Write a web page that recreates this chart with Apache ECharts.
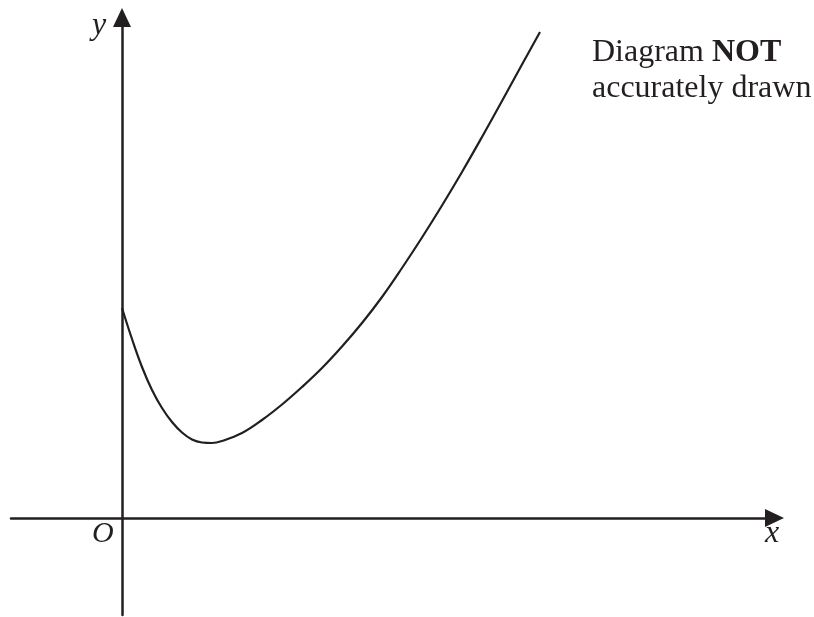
<!DOCTYPE html>
<html>
<head>
<meta charset="utf-8">
<style>
    html, body { margin: 0; padding: 0; background: #fff; }
    #chart { width: 814px; height: 617px; }
</style>
<script src="https://cdn.jsdelivr.net/npm/echarts@6/dist/echarts.min.js"></script>
</head>
<body>
<div id="chart"></div>
<script>
// 曲线上的点（读图估计，单位任意）
const curveX = [0, 1, 2, 3, 4, 5, 6, 7, 8, 9, 10, 12, 14, 16, 18, 20, 22, 24, 26, 28, 30, 32, 34, 36, 38, 40, 41.8];
const curveY = [21.0, 17.9, 15.1, 12.8, 11.0, 9.6, 8.55, 7.85, 7.55, 7.5, 7.7, 8.5, 9.8, 11.35, 13.1, 15.0, 17.15, 19.5, 22.1, 25.0, 28.05, 31.25, 34.6, 38.1, 41.7, 45.35, 48.6];

// 坐标范围
const xRange = [-11.1, 65.25];
const yRange = [-9.7, 50.05];

// 文字
const axisNames = { x: 'x', y: 'y', origin: 'O' };
const noteLine1 = 'Diagram ';
const noteBold = 'NOT';
const noteLine2 = 'accurately drawn';

const ink = '#231f20';
const serif = '"Liberation Serif", "DejaVu Serif", serif';

const chart = echarts.init(document.getElementById('chart'));

const axisCommon = {
    type: 'value',
    axisLabel: { show: false },
    axisTick: { show: false },
    splitLine: { show: false },
    axisLine: {
        onZero: true,
        symbol: ['none', 'triangle'],
        symbolSize: [18, 19],
        lineStyle: { color: ink, width: 2.5 }
    }
};

const option = {
    animation: false,
    grid: { left: 11, right: 39.5, top: 17.5, bottom: 2 },
    xAxis: Object.assign({}, axisCommon, { min: xRange[0], max: xRange[1] }),
    yAxis: Object.assign({}, axisCommon, { min: yRange[0], max: yRange[1] }),
    series: [{
        type: 'line',
        data: curveX.map((x, i) => [x, curveY[i]]),
        smooth: 0.4,
        symbol: 'none',
        lineStyle: { color: ink, width: 2.2 }
    }],
    graphic: [
        {
            type: 'text', left: 92, top: 10,
            style: { text: axisNames.y, font: 'italic 32px ' + serif, fill: ink }
        },
        {
            type: 'text', left: 92, top: 519,
            style: { text: axisNames.origin, font: 'italic 30px ' + serif, fill: ink }
        },
        {
            type: 'text', left: 765, top: 518,
            style: { text: axisNames.x, font: 'italic 32px ' + serif, fill: ink }
        },
        {
            type: 'text', left: 592, top: 37,
            style: {
                text: '{n|' + noteLine1 + '}{b|' + noteBold + '}\n{n|' + noteLine2 + '}',
                fill: ink,
                rich: {
                    n: { fontFamily: serif, fontSize: 32, lineHeight: 36, color: ink },
                    b: { fontFamily: serif, fontSize: 32, fontWeight: 'bold', lineHeight: 36, color: ink }
                }
            }
        }
    ]
};
chart.setOption(option);
</script>
</body>
</html>
